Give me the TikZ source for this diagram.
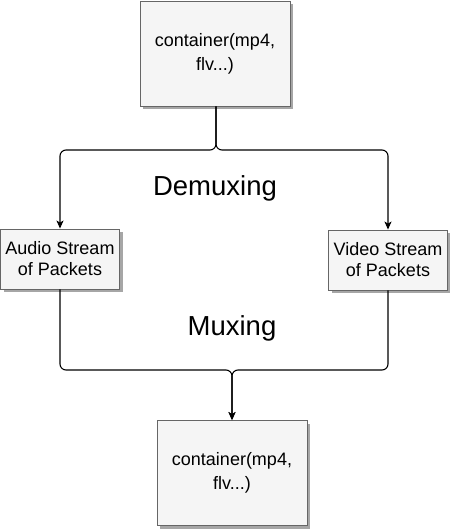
\documentclass[tikz,border=0pt]{standalone}
\usepackage{fontspec}
\setmainfont{Liberation Sans}
\usetikzlibrary{arrows.meta,shadows}
\begin{document}
\begin{tikzpicture}[x=1pt,y=-1pt,
  boxstyle/.style={draw=black!60, fill=black!4, line width=0.9pt, inner sep=0pt,
    drop shadow={shadow xshift=3pt, shadow yshift=-3pt, fill=black, opacity=0.35}},
  contbox/.style={boxstyle, minimum width=150pt, minimum height=105pt, align=center,
    font=\fontsize{18}{24}\selectfont},
  streambox/.style={boxstyle, minimum width=119pt, minimum height=60pt, align=center,
    font=\fontsize{18}{21}\selectfont},
  biglabel/.style={font=\fontsize{27.5}{30}\selectfont},
  conn/.style={draw=black, line width=1.1pt, rounded corners=6pt},
  tip/.style={-{Stealth[length=8pt,width=7pt,inset=2pt]}}
]
\useasboundingbox (0,0) rectangle (450,531);
\node[contbox] (top) at (215,53.5) {container(mp4,\\flv...)};
\node[streambox] (audio) at (60,259) {Audio Stream\\of Packets};
\node[streambox] (video) at (388,260) {Video Stream\\of Packets};
\node[contbox] (bot) at (232,473) {container(mp4,\\flv...)};
\node[biglabel] (demux) at (215,188) {Demuxing};
\node[biglabel] (mux) at (232,328) {Muxing};
\coordinate (split) at (216,150);
\coordinate (join) at (232,370);
\draw[conn,tip] (top.south -| split) |- (audio.north |- split) -- (audio.north);
\draw[conn,tip] (top.south -| split) |- (video.north |- split) -- (video.north);
\draw[conn,tip] (audio.south) |- (join) -- (bot.north);
\draw[conn,tip] (video.south) |- (join) -- (bot.north);
\end{tikzpicture}
\end{document}
